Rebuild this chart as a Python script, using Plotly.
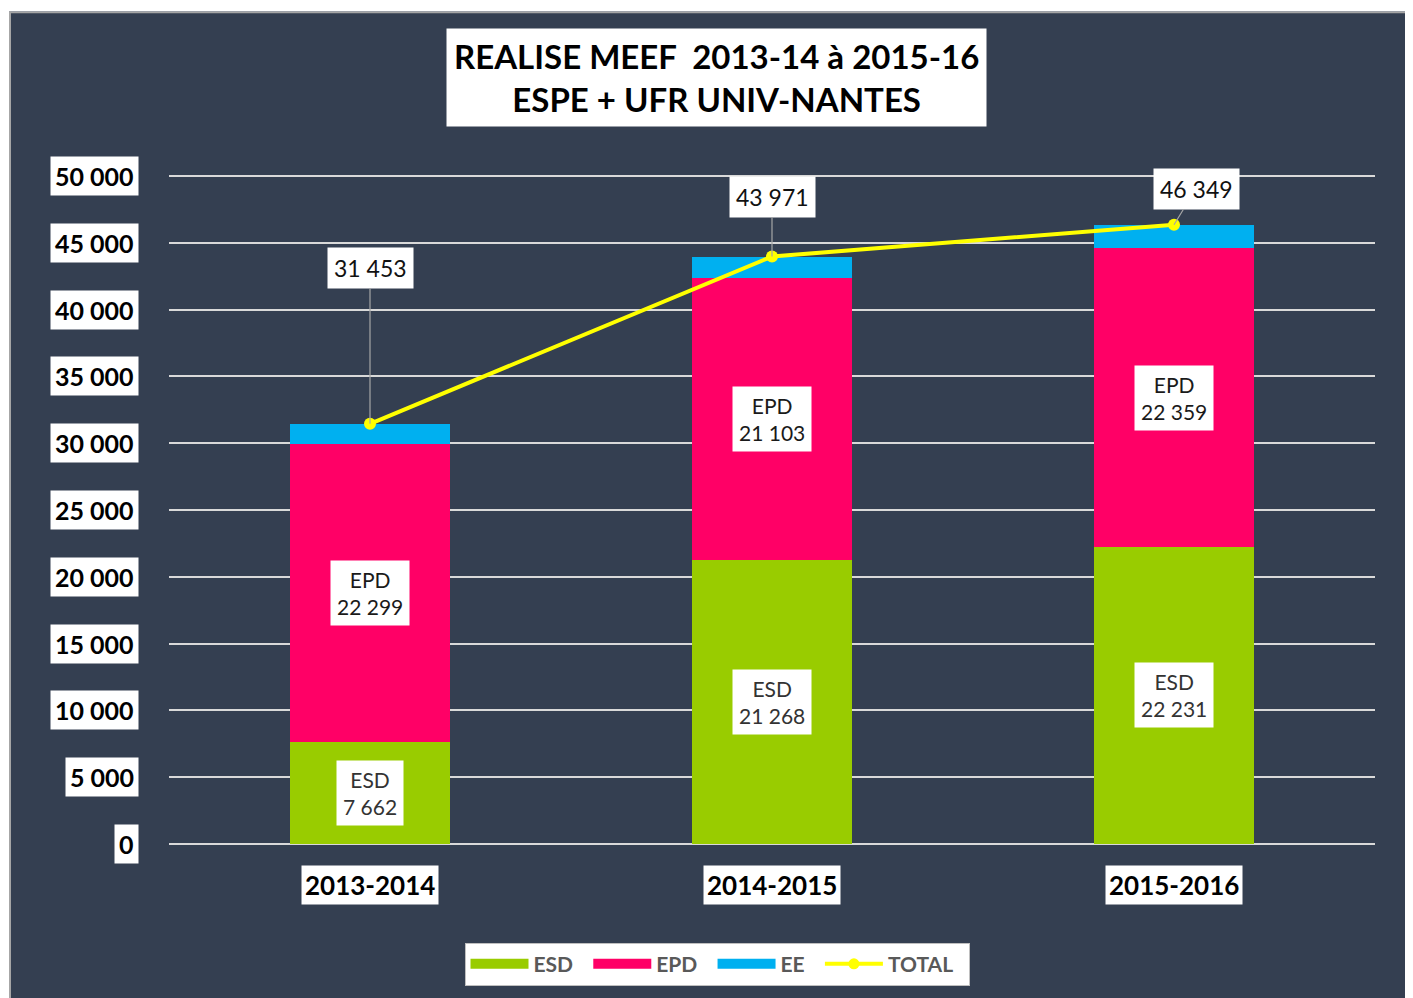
import plotly.graph_objects as go

# ---- data ----
years = ["2013-2014", "2014-2015", "2015-2016"]
esd = [7662, 21268, 22231]
epd = [22299, 21103, 22359]
ee = [1492, 1600, 1759]
total = [31453, 43971, 46349]
y_ticks = [0, 5000, 10000, 15000, 20000, 25000, 30000, 35000, 40000, 45000, 50000]
title_lines = ["REALISE MEEF\u00a0 2013-14 à 2015-16", "ESPE + UFR UNIV-NANTES"]

# ---- style / layout (page has an 8px body margin) ----
OFF = 8
W, H = 1405, 990
L, R, T, B = 161, 38, 164, 152
PW, PH = W - L - R, H - T - B
Y_TOP = 50000 * PH / 670.0
BG = "#343F51"
C_ESD, C_EPD, C_EE, C_TOT = "#99CC00", "#FF0066", "#00B0F0", "#FFFF00"
FONT = "Lato"
PAD = "\u00a0\u00a0"


def px2x(px):
    return (px - OFF - L) / PW


def px2y(py):
    return (H - B - (py - OFF)) / PH


def fmt(v):
    return f"{v:,}".replace(",", " ")


fig = go.Figure()
fig.add_trace(go.Bar(x=years, y=esd, name="ESD", showlegend=False,
                     marker=dict(color=C_ESD, line=dict(width=0))))
fig.add_trace(go.Bar(x=years, y=epd, name="EPD", showlegend=False,
                     marker=dict(color=C_EPD, line=dict(width=0))))
fig.add_trace(go.Bar(x=years, y=ee, name="EE", showlegend=False,
                     marker=dict(color=C_EE, line=dict(width=0))))
fig.add_trace(go.Scatter(x=years, y=total, name="TOTAL", mode="lines+markers", showlegend=False,
                         line=dict(color=C_TOT, width=4),
                         marker=dict(color=C_TOT, size=12, symbol="circle")))
# legend entries (wide rectangular swatches like the original)
for nm, col in [("ESD", C_ESD), ("EPD", C_EPD), ("EE", C_EE)]:
    fig.add_trace(go.Scatter(x=[None], y=[None], mode="lines", name=nm + PAD,
                             line=dict(color=col, width=14)))
fig.add_trace(go.Scatter(x=[None], y=[None], mode="lines+markers", name="TOTAL" + PAD,
                         line=dict(color=C_TOT, width=4),
                         marker=dict(color=C_TOT, size=11)))

ann = []
# title
ann.append(dict(xref="paper", yref="paper", x=px2x(716), y=px2y(77),
                text="<br>".join(title_lines), showarrow=False,
                font=dict(family=FONT, size=33, color="#000000", weight="bold"),
                bgcolor="white", borderpad=7, align="center",
                xanchor="center", yanchor="middle"))
# y tick labels
for v in y_ticks:
    ann.append(dict(xref="paper", yref="y", x=px2x(139), y=v, text=fmt(v),
                    showarrow=False, xanchor="right", yanchor="middle",
                    font=dict(family=FONT, size=25, color="#000000", weight="bold"),
                    bgcolor="white", borderpad=4))
# category labels
for c in years:
    ann.append(dict(xref="x", yref="paper", x=c, y=px2y(887), text=c,
                    showarrow=False, xanchor="center", yanchor="middle",
                    font=dict(family=FONT, size=26, color="#000000", weight="bold"),
                    bgcolor="white", borderpad=3))
# segment labels
for i, c in enumerate(years):
    ann.append(dict(xref="x", yref="y", x=c, y=esd[i] / 2,
                    text=f"ESD<br>{fmt(esd[i])}", showarrow=False,
                    font=dict(family=FONT, size=21, color="#333333"),
                    bgcolor="white", borderpad=6, align="center"))
    ann.append(dict(xref="x", yref="y", x=c, y=esd[i] + epd[i] / 2,
                    text=f"EPD<br>{fmt(epd[i])}", showarrow=False,
                    font=dict(family=FONT, size=21, color="#1A1A1A"),
                    bgcolor="white", borderpad=6, align="center"))
# total labels with leader lines
offsets = [(0, -156), (0, -60), (22, -36)]
for i, c in enumerate(years):
    ax, ay = offsets[i]
    ann.append(dict(xref="x", yref="y", x=c, y=total[i], text=fmt(total[i]),
                    showarrow=True, arrowhead=0, arrowwidth=1.2, arrowcolor="#A6A6A6",
                    ax=ax, ay=ay, standoff=0,
                    font=dict(family=FONT, size=23, color="#111111"),
                    bgcolor="white", borderpad=6))

shapes = [
    dict(type="rect", xref="paper", yref="paper", x0=px2x(0), x1=px2x(9),
         y0=px2y(1010), y1=px2y(0), fillcolor="white", line=dict(width=0), layer="above"),
    dict(type="rect", xref="paper", yref="paper", x0=px2x(0), x1=px2x(1420),
         y0=px2y(11), y1=px2y(0), fillcolor="white", line=dict(width=0), layer="above"),
    dict(type="line", xref="paper", yref="paper", x0=px2x(10), x1=px2x(10),
         y0=px2y(1010), y1=px2y(11), line=dict(color="#A6A6A6", width=2), layer="above"),
    dict(type="line", xref="paper", yref="paper", x0=px2x(10), x1=px2x(1420),
         y0=px2y(12), y1=px2y(12), line=dict(color="#A6A6A6", width=1.5), layer="above"),
]

fig.update_layout(
    width=W, height=H,
    margin=dict(l=L, r=R, t=T, b=B, pad=0),
    paper_bgcolor=BG, plot_bgcolor=BG,
    barmode="stack", bargap=0.6,
    font=dict(family=FONT),
    showlegend=True,
    legend=dict(orientation="h", x=px2x(717), xanchor="center", y=px2y(945), yanchor="top",
                bgcolor="white", bordercolor="#BFBFBF", borderwidth=1,
                font=dict(family=FONT, size=21, color="#595959", weight="bold"),
                traceorder="normal", itemwidth=58),
    xaxis=dict(range=[-0.5, 2.5], showticklabels=False, showgrid=False, zeroline=False,
               showline=False, ticks=""),
    yaxis=dict(range=[0, Y_TOP], tickvals=y_ticks, showticklabels=False,
               showgrid=True, gridcolor="#D9D9D9", gridwidth=1.5,
               zeroline=True, zerolinecolor="#D9D9D9", zerolinewidth=1.5,
               showline=False, ticks=""),
    annotations=ann,
    shapes=shapes,
)

fig.write_html("out.html")
